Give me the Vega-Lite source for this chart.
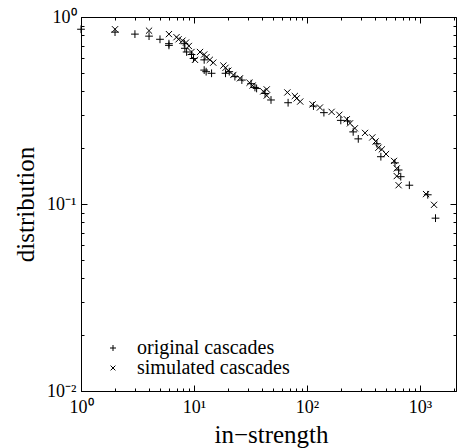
{
  "$schema": "https://vega.github.io/schema/vega-lite/v6.json",
  "width": 375,
  "height": 374,
  "autosize": {"type": "none"},
  "padding": {"left": 81, "top": 17, "right": 7, "bottom": 57},
  "background": "white",
  "config": {
    "view": {"stroke": "black", "strokeWidth": 1},
    "font": "Liberation Serif",
    "axis": {"grid": false, "domainColor": "black", "tickColor": "black", "labelColor": "black", "titleColor": "black", "labelFont": "Liberation Serif", "titleFont": "Liberation Serif", "titleFontWeight": "normal", "labelFontSize": 18, "titleFontSize": 25}
  },
  "data": {"values": [
    {"s": "original cascades", "x": 1, "y": 0.86},
    {"s": "original cascades", "x": 2, "y": 0.83},
    {"s": "original cascades", "x": 3, "y": 0.81},
    {"s": "original cascades", "x": 4, "y": 0.79},
    {"s": "original cascades", "x": 5, "y": 0.76},
    {"s": "original cascades", "x": 6, "y": 0.72},
    {"s": "original cascades", "x": 6, "y": 0.705},
    {"s": "original cascades", "x": 8.2, "y": 0.72},
    {"s": "original cascades", "x": 8.3, "y": 0.68},
    {"s": "original cascades", "x": 8.6, "y": 0.65},
    {"s": "original cascades", "x": 9.5, "y": 0.63},
    {"s": "original cascades", "x": 9.9, "y": 0.60},
    {"s": "original cascades", "x": 12.3, "y": 0.59},
    {"s": "original cascades", "x": 12.3, "y": 0.52},
    {"s": "original cascades", "x": 12.8, "y": 0.51},
    {"s": "original cascades", "x": 14.3, "y": 0.50},
    {"s": "original cascades", "x": 19, "y": 0.50},
    {"s": "original cascades", "x": 20.5, "y": 0.51},
    {"s": "original cascades", "x": 23, "y": 0.48},
    {"s": "original cascades", "x": 26.5, "y": 0.46},
    {"s": "original cascades", "x": 32, "y": 0.44},
    {"s": "original cascades", "x": 34.6, "y": 0.42},
    {"s": "original cascades", "x": 35.8, "y": 0.415},
    {"s": "original cascades", "x": 42.5, "y": 0.39},
    {"s": "original cascades", "x": 48, "y": 0.36},
    {"s": "original cascades", "x": 68, "y": 0.348},
    {"s": "original cascades", "x": 114, "y": 0.334},
    {"s": "original cascades", "x": 141, "y": 0.308},
    {"s": "original cascades", "x": 199, "y": 0.28},
    {"s": "original cascades", "x": 228, "y": 0.278},
    {"s": "original cascades", "x": 256, "y": 0.243},
    {"s": "original cascades", "x": 284, "y": 0.223},
    {"s": "original cascades", "x": 415, "y": 0.21},
    {"s": "original cascades", "x": 450, "y": 0.179},
    {"s": "original cascades", "x": 600, "y": 0.166},
    {"s": "original cascades", "x": 646, "y": 0.152},
    {"s": "original cascades", "x": 675, "y": 0.14},
    {"s": "original cascades", "x": 804, "y": 0.126},
    {"s": "original cascades", "x": 1170, "y": 0.112},
    {"s": "original cascades", "x": 1370, "y": 0.084},
    {"s": "simulated cascades", "x": 2, "y": 0.86},
    {"s": "simulated cascades", "x": 4, "y": 0.845},
    {"s": "simulated cascades", "x": 6, "y": 0.81},
    {"s": "simulated cascades", "x": 7, "y": 0.78},
    {"s": "simulated cascades", "x": 7.3, "y": 0.76},
    {"s": "simulated cascades", "x": 7.9, "y": 0.747},
    {"s": "simulated cascades", "x": 8.5, "y": 0.73},
    {"s": "simulated cascades", "x": 9, "y": 0.70},
    {"s": "simulated cascades", "x": 9.5, "y": 0.65},
    {"s": "simulated cascades", "x": 10.2, "y": 0.59},
    {"s": "simulated cascades", "x": 11.3, "y": 0.65},
    {"s": "simulated cascades", "x": 12.3, "y": 0.63},
    {"s": "simulated cascades", "x": 12.9, "y": 0.61},
    {"s": "simulated cascades", "x": 13.8, "y": 0.59},
    {"s": "simulated cascades", "x": 14.8, "y": 0.57},
    {"s": "simulated cascades", "x": 18.2, "y": 0.55},
    {"s": "simulated cascades", "x": 19, "y": 0.535},
    {"s": "simulated cascades", "x": 20.1, "y": 0.516},
    {"s": "simulated cascades", "x": 22.3, "y": 0.49},
    {"s": "simulated cascades", "x": 25.5, "y": 0.47},
    {"s": "simulated cascades", "x": 31, "y": 0.445},
    {"s": "simulated cascades", "x": 33, "y": 0.43},
    {"s": "simulated cascades", "x": 41, "y": 0.40},
    {"s": "simulated cascades", "x": 44, "y": 0.41},
    {"s": "simulated cascades", "x": 44, "y": 0.38},
    {"s": "simulated cascades", "x": 67, "y": 0.395},
    {"s": "simulated cascades", "x": 78, "y": 0.378},
    {"s": "simulated cascades", "x": 81, "y": 0.367},
    {"s": "simulated cascades", "x": 87, "y": 0.353},
    {"s": "simulated cascades", "x": 112, "y": 0.341},
    {"s": "simulated cascades", "x": 130, "y": 0.328},
    {"s": "simulated cascades", "x": 165, "y": 0.311},
    {"s": "simulated cascades", "x": 193, "y": 0.30},
    {"s": "simulated cascades", "x": 225, "y": 0.284},
    {"s": "simulated cascades", "x": 240, "y": 0.27},
    {"s": "simulated cascades", "x": 265, "y": 0.254},
    {"s": "simulated cascades", "x": 326, "y": 0.24},
    {"s": "simulated cascades", "x": 378, "y": 0.227},
    {"s": "simulated cascades", "x": 404, "y": 0.216},
    {"s": "simulated cascades", "x": 428, "y": 0.20},
    {"s": "simulated cascades", "x": 459, "y": 0.196},
    {"s": "simulated cascades", "x": 500, "y": 0.185},
    {"s": "simulated cascades", "x": 588, "y": 0.17},
    {"s": "simulated cascades", "x": 622, "y": 0.155},
    {"s": "simulated cascades", "x": 622, "y": 0.141},
    {"s": "simulated cascades", "x": 646, "y": 0.126},
    {"s": "simulated cascades", "x": 1130, "y": 0.113},
    {"s": "simulated cascades", "x": 1330, "y": 0.099}
  ]},
  "layer": [
    {
      "mark": {"type": "point", "filled": false, "stroke": "black", "strokeWidth": 1, "size": 60, "opacity": 1},
      "encoding": {
        "x": {"field": "x", "type": "quantitative",
          "scale": {"type": "log", "domain": [1, 2080], "nice": false},
          "axis": {"orient": "bottom", "title": "in−strength", "titleX": 190, "titleY": 51, "titleBaseline": "alphabetic", "titleAlign": "center",
            "values": [1,2,3,4,5,6,7,8,9,10,20,30,40,50,60,70,80,90,100,200,300,400,500,600,700,800,900,1000,2000],
            "labelExpr": "datum.value == 1 ? '10⁰' : datum.value == 10 ? '10¹' : datum.value == 100 ? '10²' : datum.value == 1000 ? '10³' : ''",
            "labelOverlap": false, "labelFlush": false, "labelPadding": 13,
            "tickSize": {"condition": {"test": "datum.value == 1 || datum.value == 10 || datum.value == 100 || datum.value == 1000", "value": -6}, "value": -3}}},
        "y": {"field": "y", "type": "quantitative",
          "scale": {"type": "log", "domain": [0.01, 1], "nice": false},
          "axis": {"orient": "left", "title": "distribution", "titleX": -48, "titleY": 187, "titleBaseline": "alphabetic", "titleAlign": "center", "titleAngle": -90,
            "values": [0.01,0.02,0.03,0.04,0.05,0.06,0.07,0.08,0.09,0.1,0.2,0.3,0.4,0.5,0.6,0.7,0.8,0.9,1],
            "labelExpr": "datum.value == 1 ? '10⁰' : datum.value == 0.1 ? '10⁻¹' : datum.value == 0.01 ? '10⁻²' : ''",
            "labelOverlap": false, "labelFlush": false, "labelPadding": 11,
            "tickSize": {"condition": {"test": "datum.value == 1 || datum.value == 0.1 || datum.value == 0.01", "value": -6}, "value": -3}}},
        "shape": {"field": "s", "type": "nominal",
          "scale": {"domain": ["original cascades", "simulated cascades"], "range": ["M-1,0L1,0M0,-1L0,1", "M-0.8,-0.8L0.8,0.8M-0.8,0.8L0.8,-0.8"]},
          "legend": {"orient": "none", "legendX": 22, "legendY": 321, "title": null, "labelFont": "Liberation Serif", "labelFontSize": 20, "labelLimit": 400, "labelColor": "black", "symbolSize": 36, "symbolStrokeColor": "black", "symbolStrokeWidth": 1, "symbolFillColor": "transparent", "labelOffset": 14, "rowPadding": 0}}
      }
    },
    {
      "mark": {"type": "point", "opacity": 0},
      "encoding": {
        "x": {"field": "x", "type": "quantitative",
          "axis": {"orient": "top", "title": null, "labels": false, "domain": false,
            "values": [1,2,3,4,5,6,7,8,9,10,20,30,40,50,60,70,80,90,100,200,300,400,500,600,700,800,900,1000,2000],
            "tickSize": {"condition": {"test": "datum.value == 1 || datum.value == 10 || datum.value == 100 || datum.value == 1000", "value": -6}, "value": -3}}},
        "y": {"field": "y", "type": "quantitative",
          "axis": {"orient": "right", "title": null, "labels": false, "domain": false,
            "values": [0.01,0.02,0.03,0.04,0.05,0.06,0.07,0.08,0.09,0.1,0.2,0.3,0.4,0.5,0.6,0.7,0.8,0.9,1],
            "tickSize": {"condition": {"test": "datum.value == 1 || datum.value == 0.1 || datum.value == 0.01", "value": -6}, "value": -3}}}
      }
    }
  ],
  "resolve": {"axis": {"x": "independent", "y": "independent"}}
}
